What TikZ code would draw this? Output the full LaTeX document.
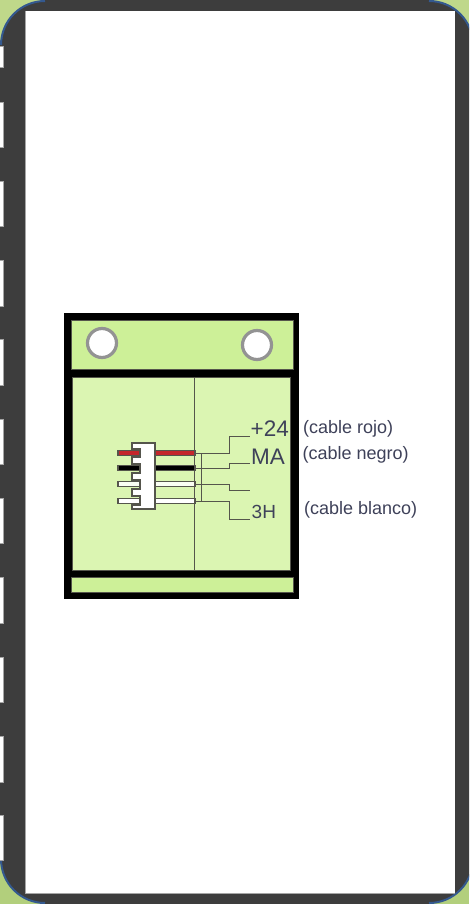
\documentclass[tikz,border=0pt]{standalone}
\usepackage{fontspec}
\setmainfont{Liberation Sans}
\usetikzlibrary{calc}
\definecolor{framegray}{HTML}{3D3D3D}
\definecolor{arcblue}{HTML}{34598F}
\definecolor{cornergreen}{HTML}{BFD88A}
\definecolor{cornergreenb}{HTML}{B2CF7C}
\definecolor{panelgreen}{HTML}{CDF098}
\definecolor{midgreen}{HTML}{DBF5B2}
\definecolor{edgegray}{HTML}{55554C}
\definecolor{labelink}{HTML}{3E4159}
\definecolor{wirered}{HTML}{C4262B}
\tikzset{
  panel/.style={draw=edgegray,line width=.7pt,inner sep=0pt,outer sep=0pt},
  hole/.style={circle,draw=gray!85,fill=white,line width=3.2pt,minimum size=29pt,inner sep=0pt},
  wire/.style={draw=edgegray,line width=1.3pt,inner sep=0pt,outer sep=0pt,minimum width=77pt,minimum height=5pt},
  lead/.style={draw=edgegray,line width=1pt},
  tab/.style={fill=white,draw=gray!70,line width=.7pt},
  big/.style={text=labelink,inner sep=0pt,anchor=west},
  small/.style={text=labelink,inner sep=0pt,anchor=west,font=\fontsize{18}{20}\selectfont},
  cornerarc/.style={arcblue,line width=2pt,rounded corners=44pt},
}
\begin{document}
\begin{tikzpicture}[x=1pt,y=-1pt]
\useasboundingbox (0,0) rectangle (469,904);
\begin{scope}
\clip (0,0) rectangle (469,904);
% corners
\fill[cornergreen] (0,0) rectangle (469,100);
\fill[cornergreenb] (0,804) rectangle (469,904);
% frame
\fill[framegray,rounded corners=44pt] (1,1) rectangle (473,903);
\fill[framegray] (-1,45) rectangle (30,859);
\fill[framegray] (45,-1) rectangle (429,30);
\fill[framegray] (45,880) rectangle (429,905);
\draw[cornerarc] (1,45) -- (1,1) -- (45,1);
\draw[cornerarc] (429,1) -- (473,1) -- (473,45);
\draw[cornerarc] (1,859) -- (1,903) -- (45,903);
\draw[cornerarc] (429,903) -- (473,903) -- (473,859);
% left tabs
\foreach \a/\b in {46/67,102/147,181/226,260/306,339/385,419/464,498/543,577/623,657/702,736/782,815/860}
  \draw[tab] (-2,\a) rectangle (3.7,\b);
% white sheet
\fill[white] (25,11) rectangle (455,893);
\draw[gray!70,line width=.7pt] (25,11) -- (25,893) -- (455,893);
\end{scope}
% device
\node[fill=black,minimum width=235pt,minimum height=286pt,inner sep=0pt,outer sep=0pt] (body) at (181.5,456) {};
\node[panel,fill=panelgreen,minimum width=222pt,minimum height=49pt] (top) at (182,344.5) {};
\node[panel,fill=midgreen,minimum width=217.5pt,minimum height=193pt] (mid) at (181.25,473.5) {};
\node[panel,fill=panelgreen,minimum width=222pt,minimum height=15pt] (bot) at (182,584.5) {};
\node[hole] (h1) at (102,343) {};
\node[hole] (h2) at (257,345) {};
\coordinate (vt) at (194,377);
\coordinate (vb) at (194,570);
\draw[lead] (vt) -- (vb);
% wires
\node[wire,fill=wirered] (w1) at (156.5,453) {};
\node[wire,fill=black] (w2) at (156.5,468) {};
\node[wire,fill=white!85!midgreen] (w3) at (156.5,484) {};
\node[wire,fill=white] (w4) at (156.5,501) {};
% connector housing
\filldraw[fill=white,draw=edgegray,line width=1.2pt]
  (132,443) -- (155,443) -- (155,509) -- (132,509) -- (132,505) -- (140,505) -- (140,496)
  -- (132,496) -- (132,489) -- (140,489) -- (140,480) -- (132,480) -- (132,473) -- (140,473)
  -- (140,464) -- (132,464) -- (132,457) -- (140,457) -- (140,449) -- (132,449) -- cycle;
% leader ends
\coordinate (e1) at (250,436);
\coordinate (e2) at (250,463);
\coordinate (e3) at (250,490);
\coordinate (e4) at (250,519);
\draw[lead] (w1.east) -- ++(34,0) |- (e1);
\draw[lead] (w2.east) -- ++(34,0) |- (e2);
\draw[lead] (w3.east) -- ++(34,0) |- (e3);
\draw[lead] (w4.east) -- ++(34,0) |- (e4);
\draw[lead] ($(w1.east)+(6,0)$) -- ($(w4.east)+(6,0)$);
% labels
\node[big,font=\fontsize{22.5}{24}\selectfont] (l1) at (250.5,429) {+24};
\node[big,font=\fontsize{22.5}{24}\selectfont] (l2) at (251,456.5) {MA};
\node[big,font=\fontsize{19}{21}\selectfont] (l3) at (251.5,512) {3H};
\node[small] (c1) at (303,429) {(cable rojo)};
\node[small] (c2) at (302.5,454.5) {(cable negro)};
\node[small] (c3) at (304,510) {(cable blanco)};
\end{tikzpicture}
\end{document}
